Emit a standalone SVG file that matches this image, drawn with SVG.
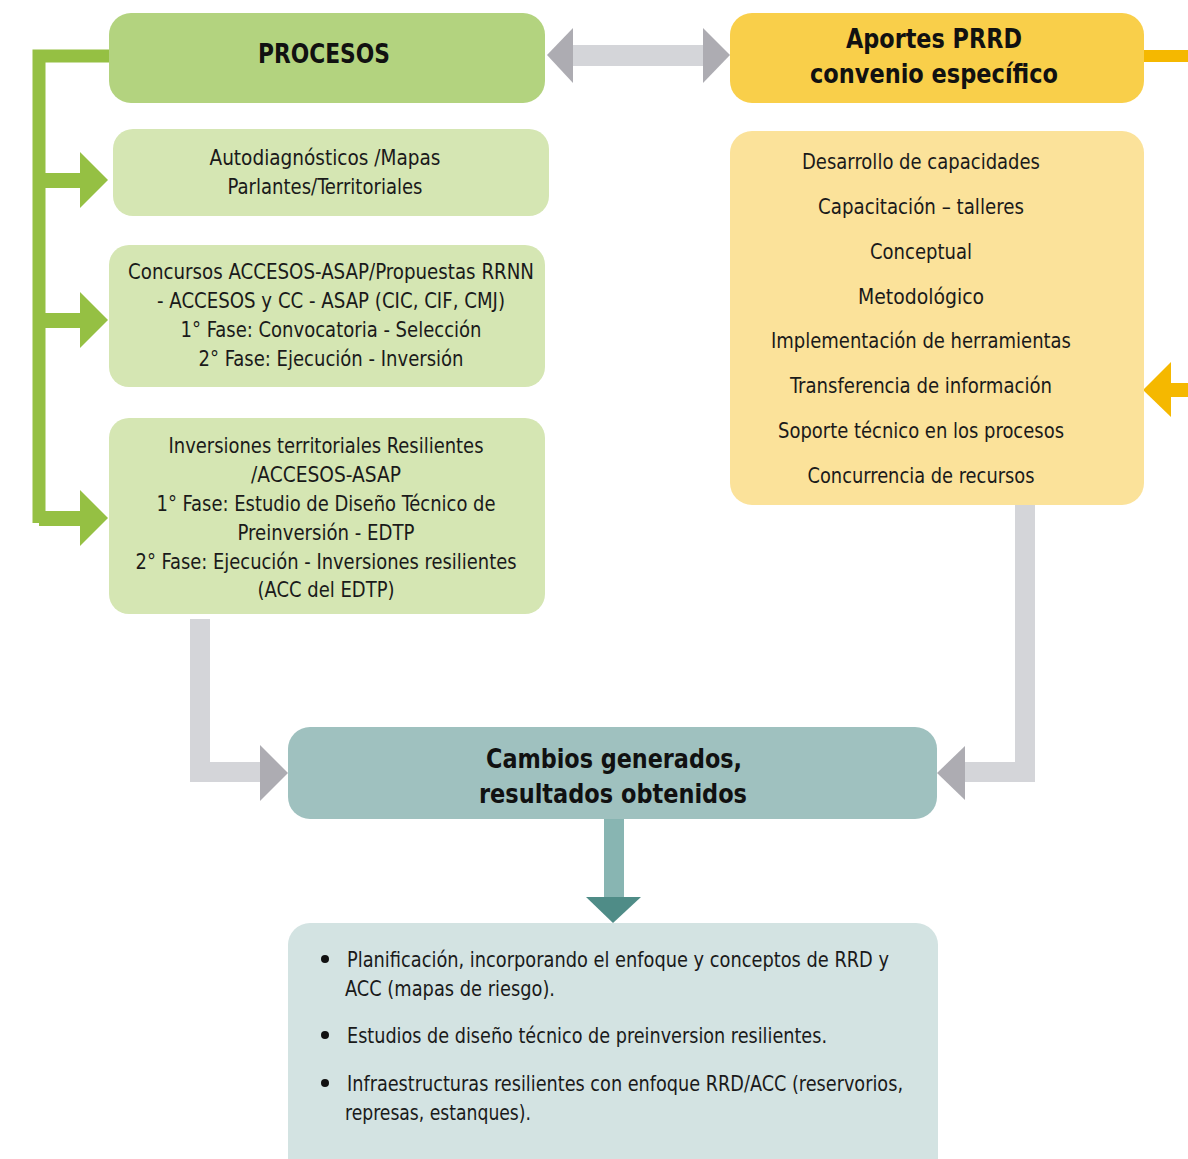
<svg xmlns="http://www.w3.org/2000/svg" width="1188" height="1159" viewBox="0 0 1188 1159">
<style>
.t{font-family:"DejaVu Sans Condensed","Liberation Sans",sans-serif;font-size:22px;fill:#1a1a1a;text-anchor:middle}
.b{font-family:"DejaVu Sans Condensed","Liberation Sans",sans-serif;font-size:27px;font-weight:bold;fill:#111;text-anchor:middle}
.l{text-anchor:start}
</style>
<rect width="1188" height="1159" fill="#ffffff"/>
<g id="connectors">
  <path d="M109,56 H39 V523" fill="none" stroke="#95c043" stroke-width="13"/>
  <g fill="#95c043">
    <rect x="39" y="173" width="43" height="15"/><polygon points="80,152 108,180 80,208"/>
    <rect x="39" y="313" width="43" height="15"/><polygon points="80,292 108,320 80,348"/>
    <rect x="39" y="511" width="43" height="15"/><polygon points="80,490 108,518 80,546"/>
  </g>
  <rect x="572" y="45" width="132" height="21" fill="#d4d5d9"/>
  <polygon points="547,55 573,28 573,83" fill="#adacb2"/>
  <polygon points="730,55 703,28 703,83" fill="#adacb2"/>
  <rect x="1144" y="50" width="44" height="12" fill="#f5b800"/>
  <rect x="1170" y="383" width="18" height="14" fill="#f5b800"/>
  <polygon points="1143,390 1171,362 1171,417" fill="#f5b800"/>
  <path d="M200,619 V772 H262" fill="none" stroke="#d4d5d9" stroke-width="20"/>
  <polygon points="288,773 260,745 260,801" fill="#adacb2"/>
  <path d="M1025,505 V772 H963" fill="none" stroke="#d4d5d9" stroke-width="20"/>
  <polygon points="937,773 965,746 965,800" fill="#adacb2"/>
  <rect x="604" y="818" width="20" height="80" fill="#88b5b2"/>
  <polygon points="586,897 641,897 613,923" fill="#4f8c87"/>
</g>
<g id="procesos">
  <rect x="109" y="13" width="436" height="90" rx="22" fill="#b3d37f"/>
  <text class="b" x="324" y="63" textLength="132" lengthAdjust="spacingAndGlyphs">PROCESOS</text>
</g>
<g id="autodiagnosticos">
  <rect x="113" y="129" width="436" height="87" rx="20" fill="#d5e6b3"/>
  <text class="t" x="325" y="165" textLength="231" lengthAdjust="spacingAndGlyphs">Autodiagnósticos /Mapas</text>
  <text class="t" x="325" y="194" textLength="195" lengthAdjust="spacingAndGlyphs">Parlantes/Territoriales</text>
</g>
<g id="concursos">
  <rect x="109" y="245" width="436" height="142" rx="20" fill="#d5e6b3"/>
  <text class="t" x="331" y="279" textLength="406" lengthAdjust="spacingAndGlyphs">Concursos ACCESOS-ASAP/Propuestas RRNN</text>
  <text class="t" x="331" y="308" textLength="348" lengthAdjust="spacingAndGlyphs">- ACCESOS y CC - ASAP (CIC, CIF, CMJ)</text>
  <text class="t" x="331" y="337" textLength="301" lengthAdjust="spacingAndGlyphs">1° Fase: Convocatoria - Selección</text>
  <text class="t" x="331" y="366" textLength="265" lengthAdjust="spacingAndGlyphs">2° Fase: Ejecución - Inversión</text>
</g>
<g id="inversiones">
  <rect x="109" y="418" width="436" height="196" rx="20" fill="#d5e6b3"/>
  <text class="t" x="326" y="453" textLength="315" lengthAdjust="spacingAndGlyphs">Inversiones territoriales Resilientes</text>
  <text class="t" x="326" y="482" textLength="150" lengthAdjust="spacingAndGlyphs">/ACCESOS-ASAP</text>
  <text class="t" x="326" y="511" textLength="339" lengthAdjust="spacingAndGlyphs">1° Fase: Estudio de Diseño Técnico de</text>
  <text class="t" x="326" y="540" textLength="177" lengthAdjust="spacingAndGlyphs">Preinversión - EDTP</text>
  <text class="t" x="326" y="569" textLength="381" lengthAdjust="spacingAndGlyphs">2° Fase: Ejecución - Inversiones resilientes</text>
  <text class="t" x="326" y="597" textLength="137" lengthAdjust="spacingAndGlyphs">(ACC del EDTP)</text>
</g>
<g id="aportes">
  <rect x="730" y="13" width="414" height="90" rx="22" fill="#f9cf4a"/>
  <text class="b" x="934" y="48" textLength="176" lengthAdjust="spacingAndGlyphs">Aportes PRRD</text>
  <text class="b" x="934" y="83" textLength="248" lengthAdjust="spacingAndGlyphs">convenio específico</text>
</g>
<g id="aportes-lista">
  <rect x="730" y="131" width="414" height="374" rx="22" fill="#fbe29a"/>
  <text class="t" x="921" y="169" textLength="238" lengthAdjust="spacingAndGlyphs">Desarrollo de capacidades</text>
  <text class="t" x="921" y="214" textLength="206" lengthAdjust="spacingAndGlyphs">Capacitación – talleres</text>
  <text class="t" x="921" y="259" textLength="102" lengthAdjust="spacingAndGlyphs">Conceptual</text>
  <text class="t" x="921" y="304" textLength="126" lengthAdjust="spacingAndGlyphs">Metodológico</text>
  <text class="t" x="921" y="348" textLength="300" lengthAdjust="spacingAndGlyphs">Implementación de herramientas</text>
  <text class="t" x="921" y="393" textLength="262" lengthAdjust="spacingAndGlyphs">Transferencia de información</text>
  <text class="t" x="921" y="438" textLength="286" lengthAdjust="spacingAndGlyphs">Soporte técnico en los procesos</text>
  <text class="t" x="921" y="483" textLength="227" lengthAdjust="spacingAndGlyphs">Concurrencia de recursos</text>
</g>
<g id="cambios">
  <rect x="288" y="727" width="649" height="92" rx="22" fill="#9fc1bf"/>
  <text class="b" x="614" y="768" textLength="256" lengthAdjust="spacingAndGlyphs">Cambios generados,</text>
  <text class="b" x="613" y="803" textLength="268" lengthAdjust="spacingAndGlyphs">resultados obtenidos</text>
</g>
<g id="resultados">
  <rect x="288" y="923" width="650" height="260" rx="22" fill="#d3e3e2"/>
  <g fill="#111"><circle cx="325" cy="959" r="4"/><circle cx="325" cy="1035" r="4"/><circle cx="325" cy="1083" r="4"/></g>
  <text class="t l" x="347" y="967" textLength="542" lengthAdjust="spacingAndGlyphs">Planificación, incorporando el enfoque y conceptos de RRD y</text>
  <text class="t l" x="345" y="996" textLength="210" lengthAdjust="spacingAndGlyphs">ACC (mapas de riesgo).</text>
  <text class="t l" x="347" y="1043" textLength="480" lengthAdjust="spacingAndGlyphs">Estudios de diseño técnico de preinversion resilientes.</text>
  <text class="t l" x="347" y="1091" textLength="556" lengthAdjust="spacingAndGlyphs">Infraestructuras resilientes con enfoque RRD/ACC (reservorios,</text>
  <text class="t l" x="345" y="1120" textLength="186" lengthAdjust="spacingAndGlyphs">represas, estanques).</text>
</g>
</svg>
